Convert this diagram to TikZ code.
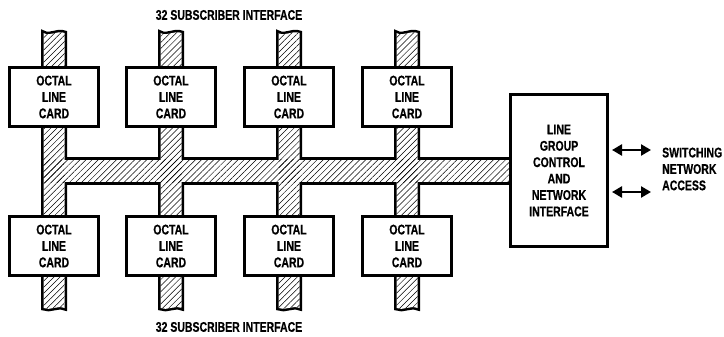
\documentclass[tikz,border=0pt]{standalone}
\usepackage{fontspec}
\newfontfamily\labfont[FakeStretch=0.75,FakeBold=0.5]{Liberation Sans Bold}
\usetikzlibrary{patterns.meta,arrows.meta}
\begin{document}
\begin{tikzpicture}[x=1pt,y=-1pt,
  txt/.style={font=\labfont\fontsize{14}{16.4}\selectfont,inner sep=0pt},
  card/.style={txt,draw,line width=3pt,fill=white,minimum width=89pt,minimum height=59pt,align=center},
  bigbox/.style={txt,draw,line width=3pt,fill=white,minimum width=97pt,minimum height=152pt,align=center},
  busline/.style={line width=5pt},
  hatch/.style={pattern={Lines[angle=45,distance=4.3pt,line width=0.5pt]}},
  dblarrow/.style={{Triangle[length=10pt,width=11pt]}-{Triangle[length=10pt,width=11pt]},line width=2.5pt}]
\useasboundingbox (0,0) rectangle (724,337);
% bus outline (drawn double width, inner half covered by fill)
\foreach \c in {54,171,289,407} {
  \draw[busline] (\c-10.5,33) .. controls (\c-4,37) and (\c+3,30) .. (\c+10.5,33) -- (\c+10.5,308) .. controls (\c+3,305) and (\c-4,311) .. (\c-10.5,308) -- cycle;
}
\draw[busline] (43.5,160) rectangle (520,182);
\foreach \c in {54,171,289,407} {
  \fill[white] (\c-10.5,33) .. controls (\c-4,37) and (\c+3,30) .. (\c+10.5,33) -- (\c+10.5,308) .. controls (\c+3,305) and (\c-4,311) .. (\c-10.5,308) -- cycle;
}
\fill[white] (43.5,160) rectangle (520,182);
\foreach \c in {54,171,289,407} {
  \fill[hatch] (\c-10.5,33) .. controls (\c-4,37) and (\c+3,30) .. (\c+10.5,33) -- (\c+10.5,308) .. controls (\c+3,305) and (\c-4,311) .. (\c-10.5,308) -- cycle;
}
\fill[hatch] (43.5,160) rectangle (520,182);
% cards
\node[card] (t1) at (54,97) {OCTAL\\LINE\\CARD};
\node[card] (t2) at (171,97) {OCTAL\\LINE\\CARD};
\node[card] (t3) at (289,97) {OCTAL\\LINE\\CARD};
\node[card] (t4) at (407,97) {OCTAL\\LINE\\CARD};
\node[card] (b1) at (54,246) {OCTAL\\LINE\\CARD};
\node[card] (b2) at (171,246) {OCTAL\\LINE\\CARD};
\node[card] (b3) at (289,246) {OCTAL\\LINE\\CARD};
\node[card] (b4) at (407,246) {OCTAL\\LINE\\CARD};
% line group control
\node[bigbox] (lgc) at (559,170.5) {LINE\\GROUP\\CONTROL\\AND\\NETWORK\\INTERFACE};
% labels
\node[txt] (toplab) at (229,15) {32 SUBSCRIBER INTERFACE};
\node[txt] (botlab) at (229,327) {32 SUBSCRIBER INTERFACE};
\node[txt,anchor=west,align=left] (sna) at (662,169) {SWITCHING\\NETWORK\\ACCESS};
% arrows
\coordinate (a1l) at (612,150);
\coordinate (a1r) at (651,150);
\coordinate (a2l) at (612,192);
\coordinate (a2r) at (651,192);
\draw[dblarrow] (a1l) -- (a1r);
\draw[dblarrow] (a2l) -- (a2r);
\end{tikzpicture}
\end{document}
